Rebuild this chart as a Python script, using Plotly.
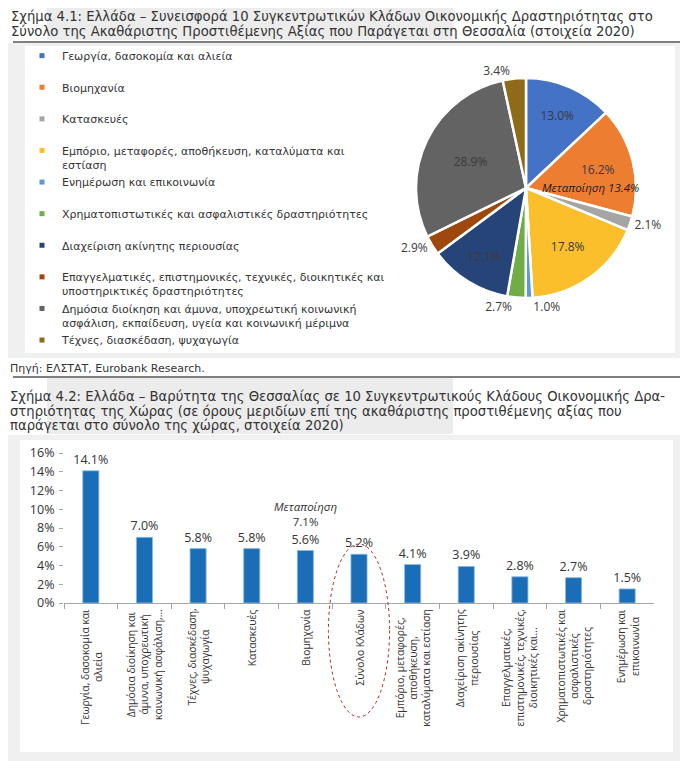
import plotly.graph_objects as go

# page body adds an 8px margin, so the figure is drawn 8px in from the top-left corner
OFF = 8
W, H = 688 - OFF, 761 - OFF
FONT = "Open Sans"
TFONT = "DejaVu Sans"
TXT = "#333333"

# ---------------- data ----------------
pie_labels = [
    "Γεωργία, δασοκομία και αλιεία",
    "Βιομηχανία",
    "Κατασκευές",
    "Εμπόριο, μεταφορές, αποθήκευση, καταλύματα και<br>εστίαση",
    "Ενημέρωση και επικοινωνία",
    "Χρηματοπιστωτικές και ασφαλιστικές δραστηριότητες",
    "Διαχείριση ακίνητης περιουσίας",
    "Επαγγελματικές, επιστημονικές, τεχνικές, διοικητικές και<br>υποστηρικτικές δραστηριότητες",
    "Δημόσια διοίκηση και άμυνα, υποχρεωτική κοινωνική<br>ασφάλιση, εκπαίδευση, υγεία και κοινωνική μέριμνα",
    "Τέχνες, διασκέδαση, ψυχαγωγία",
]
pie_values = [13.0, 16.2, 2.1, 17.8, 1.0, 2.7, 12.1, 2.9, 28.9, 3.4]
pie_colors = ["#4472C4", "#ED7D31", "#A5A5A5", "#FBBF2C", "#5B9BD5",
              "#70AD47", "#264478", "#9E480E", "#636363", "#8E6C17"]
pie_textpos = ["inside", "inside", "outside", "inside", "outside",
               "outside", "inside", "outside", "inside", "outside"]
manuf_pie_note = "Μεταποίηση 13.4%"

bar_categories = [
    "Γεωργία, δασοκομία και<br>αλιεία",
    "Δημόσια διοίκηση και<br>άμυνα, υποχρεωτική<br>κοινωνική ασφάλιση,...",
    "Τέχνες, διασκέδαση,<br>ψυχαγωγία",
    "Κατασκευές",
    "Βιομηχανία",
    "Σύνολο Κλάδων",
    "Εμπόριο, μεταφορές,<br>αποθήκευση,<br>καταλύματα και εστίαση",
    "Διαχείριση ακίνητης<br>περιουσίας",
    "Επαγγελματικές,<br>επιστημονικές, τεχνικές,<br>διοικητικές και...",
    "Χρηματοπιστωτικές και<br>ασφαλιστικές<br>δραστηριότητες",
    "Ενημέρωση και<br>επικοινωνία",
]
bar_values = [14.1, 7.0, 5.8, 5.8, 5.6, 5.2, 4.1, 3.9, 2.8, 2.7, 1.5]
manuf_bar_note = ("Μεταποίηση", 7.1)
y_ticks = [0, 2, 4, 6, 8, 10, 12, 14, 16]

title1 = ["Σχήμα 4.1: Ελλάδα – Συνεισφορά 10 Συγκεντρωτικών Κλάδων Οικονομικής Δραστηριότητας στο",
          "Σύνολο της Ακαθάριστης Προστιθέμενης Αξίας που Παράγεται στη Θεσσαλία (στοιχεία 2020)"]
source = "Πηγή: ΕΛΣΤΑΤ, Eurobank Research."
title2 = ["Σχήμα 4.2: Ελλάδα – Βαρύτητα της Θεσσαλίας σε 10 Συγκεντρωτικούς Κλάδους Οικονομικής Δρα-",
          "στηριότητας της Χώρας (σε όρους μεριδίων επί της ακαθάριστης προστιθέμενης αξίας που",
          "παράγεται στο σύνολο της χώρας, στοιχεία 2020)"]


def px(x):
    return (x - OFF) / W


def py(y):
    return 1 - (y - OFF) / H


fig = go.Figure()

# pie
fig.add_trace(go.Pie(
    labels=pie_labels, values=pie_values, sort=False, direction="clockwise",
    rotation=0,
    marker=dict(colors=pie_colors, line=dict(color="white", width=2.5)),
    texttemplate="%{value:.1f}%", textposition=pie_textpos,
    insidetextorientation="horizontal",
    textfont=dict(family=FONT, size=12, color="#3a3a3a"),
    domain=dict(x=[px(416), px(636)], y=[py(298), py(78)]),
    showlegend=False, hoverinfo="label+value",
))

# legend entries for the pie
for lab, col in zip(pie_labels, pie_colors):
    name = lab if "<br>" in lab else lab + "<br>\u200b"
    fig.add_trace(go.Scatter(
        x=[None], y=[None], mode="markers", name=name,
        marker=dict(symbol="square", size=5, color=col),
        showlegend=True, xaxis="x", yaxis="y",
    ))

# bars
fig.add_trace(go.Bar(
    x=bar_categories, y=bar_values,
    marker=dict(color="#1A6EB7", line=dict(color="#8DB9E4", width=0.8)),
    text=[f"{v:.1f}%" for v in bar_values], textposition="outside",
    constraintext="none",
    textfont=dict(family=FONT, size=12.5, color=TXT),
    cliponaxis=False, showlegend=False,
))

shapes = []
# decorative background pieces
shapes.append(dict(type="rect", xref="paper", yref="paper", x0=px(47), x1=px(453), y0=py(40), y1=py(8),
                   fillcolor="#ececec", line_width=0, layer="below"))
shapes.append(dict(type="line", xref="paper", yref="paper", x0=px(13), x1=px(688), y0=py(42), y1=py(42),
                   line=dict(color="black", width=1.2), layer="below"))
shapes.append(dict(type="rect", xref="paper", yref="paper", x0=px(8), x1=px(684), y0=py(358), y1=py(43),
                   fillcolor="#f0f0f0", line_width=0, layer="below"))
shapes.append(dict(type="rect", xref="paper", yref="paper", x0=px(25), x1=px(675), y0=py(353), y1=py(46),
                   fillcolor="white", line_width=0, layer="below"))
shapes.append(dict(type="line", xref="paper", yref="paper", x0=px(13), x1=px(688), y0=py(377), y1=py(377),
                   line=dict(color="black", width=1.2), layer="below"))
shapes.append(dict(type="rect", xref="paper", yref="paper", x0=px(47), x1=px(453), y0=py(434), y1=py(378),
                   fillcolor="#ececec", line_width=0, layer="below"))
shapes.append(dict(type="rect", xref="paper", yref="paper", x0=px(8), x1=px(684), y0=py(761), y1=py(435),
                   fillcolor="#f0f0f0", line_width=0, layer="below"))
shapes.append(dict(type="rect", xref="paper", yref="paper", x0=px(20), x1=px(673), y0=py(752), y1=py(440),
                   fillcolor="white", line_width=0, layer="below"))
# dotted ellipse around "Σύνολο Κλάδων" (extends below the axis into the label area)
shapes.append(dict(type="circle", xref="x", yref="paper", x0=4.43, x1=5.57, y0=py(717), y1=py(544),
                   line=dict(color="#B22222", width=1, dash="dot")))

annotations = []
for i, t in enumerate(title1):
    annotations.append(dict(text=t, xref="paper", yref="paper", x=px(9), y=py(16.5 + 15 * i),
                            xanchor="left", yanchor="middle", showarrow=False,
                            font=dict(family=TFONT, size=13.2, color=TXT)))
annotations.append(dict(text=source, xref="paper", yref="paper", x=px(8), y=py(368),
                        xanchor="left", yanchor="middle", showarrow=False,
                        font=dict(family=TFONT, size=11, color=TXT)))
for i, t in enumerate(title2):
    annotations.append(dict(text=t, xref="paper", yref="paper", x=px(8), y=py(396 + 15 * i),
                            xanchor="left", yanchor="middle", showarrow=False,
                            font=dict(family=TFONT, size=13.2, color=TXT)))
# pie note
annotations.append(dict(text=f"<i>{manuf_pie_note}</i>", xref="paper", yref="paper", x=px(590), y=py(187),
                        xanchor="center", yanchor="middle", showarrow=False,
                        font=dict(family=FONT, size=11.5, color="#222222")))
# bar note
annotations.append(dict(text=f"<i>{manuf_bar_note[0]}</i><br>{manuf_bar_note[1]:.1f}%",
                        xref="x", yref="y", x=bar_categories[4], y=bar_values[4],
                        yshift=20, xanchor="center", yanchor="bottom", showarrow=False,
                        font=dict(family=FONT, size=11.5, color=TXT)))
# rotated category labels
for c in bar_categories:
    annotations.append(dict(text=c, xref="x", yref="y", x=c, y=0, yshift=-4,
                            xanchor="center", yanchor="top", textangle=-90, align="center",
                            showarrow=False, font=dict(family=FONT, size=10.3, color=TXT)))

fig.update_layout(
    width=W, height=H, margin=dict(l=0, r=0, t=0, b=0, autoexpand=False),
    paper_bgcolor="white", plot_bgcolor="white",
    shapes=shapes, annotations=annotations,
    bargap=0.7,
    xaxis=dict(domain=[px(64), px(654)], type="category", showticklabels=False,
               tickson="boundaries", ticks="outside", ticklen=5, tickcolor="#a6a6a6",
               showline=True, linecolor="#a6a6a6", showgrid=False, fixedrange=True),
    yaxis=dict(domain=[py(603), py(453)], range=[0, 16], tickmode="array", tickvals=y_ticks,
               ticktext=[f"{v}%" for v in y_ticks], ticks="outside", ticklen=4, tickcolor="#a6a6a6",
               ticklabelstandoff=2,
               showline=False, showgrid=False, zeroline=False,
               tickfont=dict(family=FONT, size=12.5, color=TXT)),
    legend=dict(x=px(22), y=py(42), xanchor="left", yanchor="top", valign="top",
                bgcolor="rgba(0,0,0,0)", font=dict(family=TFONT, size=11, color=TXT),
                itemsizing="trace", tracegroupgap=0),
    font=dict(family=FONT, color=TXT),
)

fig.write_html("out.html")
